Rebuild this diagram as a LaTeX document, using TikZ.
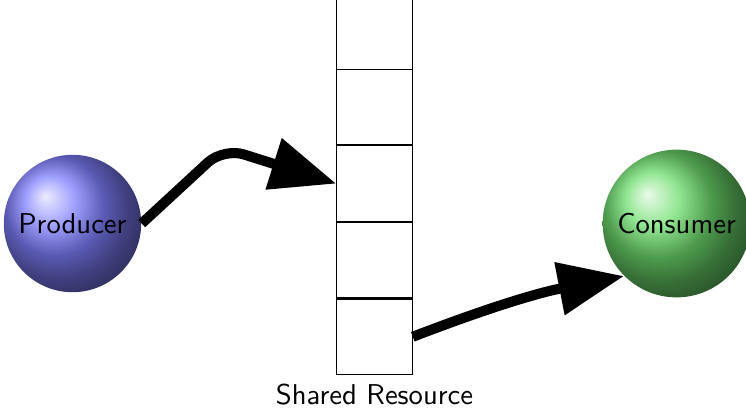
\documentclass[tikz,border=0pt]{standalone}
\usepackage{tikz}
\usetikzlibrary{arrows.meta,positioning,shapes}
\definecolor{consgreen}{RGB}{110,222,110}
\tikzstyle{flow} = [line width=3.8pt,-{Triangle[length=0.87cm,width=0.68cm]}]

\begin{document}
\begin{tikzpicture}[
    every node/.style={font=\sffamily\fontsize{10.8}{13}\selectfont},
    agent/.style={circle,shading=ball,inner sep=4.3pt},
    cell/.style={draw,minimum size=1cm,inner sep=0pt}
]
\useasboundingbox (-4.96,-2.46) rectangle (4.92,2.96);
% the buffer, bottom cell first
\node[cell] (c1) at (0,-1.5) {};
\node[cell,above=0pt of c1] (c2) {};
\node[cell,above=0pt of c2] (c3) {};
\node[cell,above=0pt of c3] (c4) {};
\draw (c4.north west) -- ++(0,1);
\draw (c4.north east) -- ++(0,1);
\node[below=0pt of c1] (buf) {Shared Resource};

\node[agent,ball color=blue!50] (prod) at (-4,0) {Producer};
\node[agent,ball color=consgreen] (cons) at (4,0) {Consumer};

\draw[flow,rounded corners=8pt] (prod.east) -- (-2,1) -- (c3.west);
\draw[flow] (c1.east) to[bend left=5] (cons.south west);
\end{tikzpicture}
\end{document}
